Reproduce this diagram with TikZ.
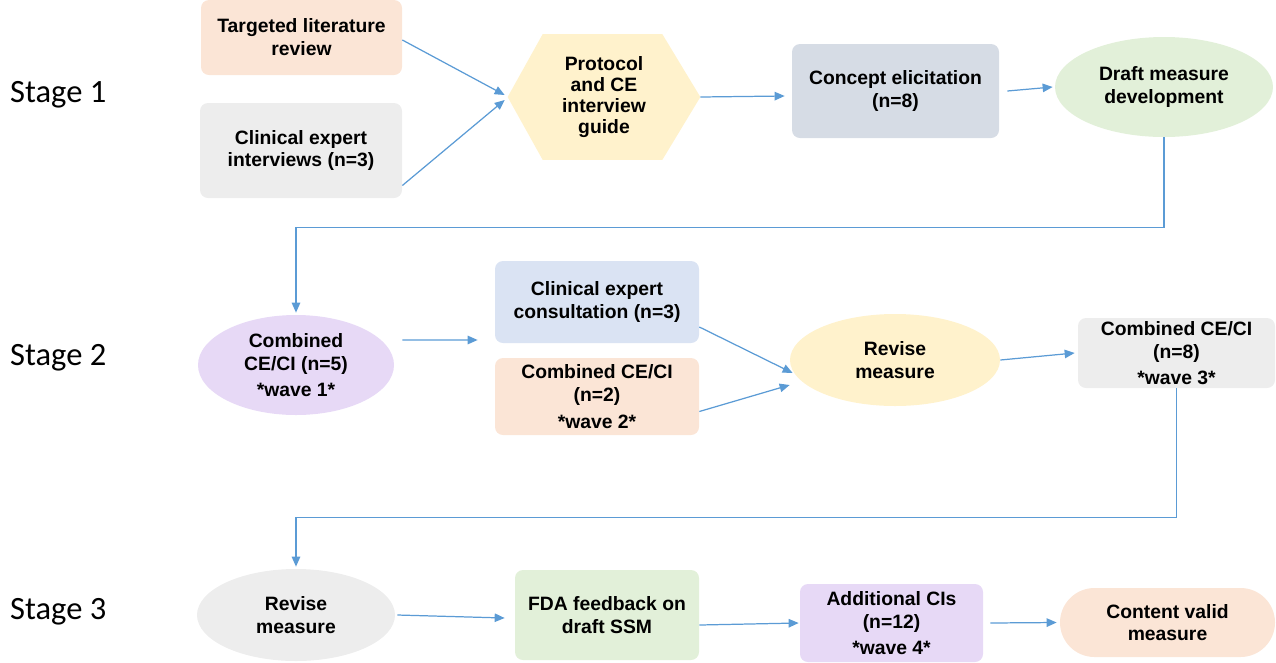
\documentclass[tikz,border=0pt]{standalone}
\usepackage{fontspec}
\setmainfont{Liberation Sans}
\newfontfamily\stagefont{Carlito}
\usetikzlibrary{arrows.meta}
\usetikzlibrary{shapes.geometric}
\usetikzlibrary{backgrounds}

\definecolor{flowblue}{HTML}{5B9BD5}
\definecolor{peach}{HTML}{FBE5D6}
\definecolor{lightgray}{HTML}{EDEDED}
\definecolor{cream}{HTML}{FFF2CC}
\definecolor{slate}{HTML}{D6DCE5}
\definecolor{mint}{HTML}{E2F0D9}
\definecolor{lavender}{HTML}{E7D9F6}
\definecolor{skyblue}{HTML}{DAE3F3}

\begin{document}
\begin{tikzpicture}[
    font=\bfseries\fontsize{11}{13}\selectfont,
    box/.style={rectangle, rounded corners=0.16cm, align=center, inner sep=0pt},
    oval/.style={ellipse, align=center, inner sep=0pt},
    flow/.style={draw=flowblue, line width=0.7pt, -{Triangle[length=0.2cm,width=0.17cm]}},
    stagelabel/.style={anchor=west, font=\stagefont\fontsize{18.5}{22}\selectfont}
]
    \useasboundingbox (0,0) rectangle (25.52,-13.24);

    % Stage labels
    \node[stagelabel] (st1) at (0.08,-1.90) {Stage 1};
    \node[stagelabel] (st2) at (0.08,-7.16) {Stage 2};
    \node[stagelabel] (st3) at (0.08,-12.24) {Stage 3};

    % Stage 1
    \node[box, fill=peach, minimum width=4.02cm, minimum height=1.5cm] (lit) at (6.03,-0.75) {Targeted literature\\review};
    \node[box, fill=lightgray, minimum width=4.04cm, minimum height=1.9cm] (clin) at (6.02,-3.01) {Clinical expert\\interviews (n=3)};
    \node[align=center, inner sep=0pt, minimum width=3.84cm, minimum height=2.5cm,
          font=\bfseries\fontsize{11}{12}\selectfont] (proto) at (12.08,-1.94) {Protocol\\and CE\\interview\\guide};
    \begin{scope}[on background layer]
        \fill[cream] (proto.west) -- ([xshift=0.7cm]proto.north west) -- ([xshift=-0.76cm]proto.north east)
            -- (proto.east) -- ([xshift=-0.76cm]proto.south east) -- ([xshift=0.7cm]proto.south west) -- cycle;
    \end{scope}
    \node[box, fill=slate, minimum width=4.14cm, minimum height=1.88cm] (conc) at (17.91,-1.82) {Concept elicitation\\(n=8)};
    \node[oval, fill=mint, minimum width=4.36cm, minimum height=2.0cm] (draft) at (23.28,-1.74) {Draft measure\\development};

    % Stage 2
    \node[oval, fill=lavender, minimum width=3.92cm, minimum height=2.0cm] (comb1) at (5.92,-7.30) {Combined\\CE/CI (n=5)\\[2pt]*wave 1*};
    \node[box, fill=skyblue, minimum width=4.08cm, minimum height=1.64cm] (cons) at (11.94,-6.04) {Clinical expert\\consultation (n=3)};
    \node[box, fill=peach, minimum width=4.08cm, minimum height=1.54cm] (comb2) at (11.94,-7.93) {Combined CE/CI\\(n=2)\\[2pt]*wave 2*};
    \node[oval, fill=cream, minimum width=4.2cm, minimum height=1.84cm] (rev1) at (17.90,-7.20) {Revise\\measure};
    \node[box, fill=lightgray, minimum width=3.94cm, minimum height=1.4cm] (comb3) at (23.53,-7.06) {Combined CE/CI\\(n=8)\\[2pt]*wave 3*};

    % Stage 3
    \node[oval, fill=lightgray, minimum width=3.96cm, minimum height=1.84cm] (rev2) at (5.92,-12.30) {Revise\\measure};
    \node[box, fill=mint, minimum width=3.68cm, minimum height=1.8cm] (fda) at (12.14,-12.30) {FDA feedback on\\draft SSM};
    \node[box, fill=lavender, minimum width=3.66cm, minimum height=1.56cm] (addl) at (17.83,-12.46) {Additional CIs\\(n=12)\\[2pt]*wave 4*};
    \node[box, fill=peach, rounded corners=0.69cm, minimum width=4.3cm, minimum height=1.38cm] (valid) at (23.35,-12.45) {Content valid\\measure};

    % Arrows for stage 1
    \draw[flow] ([yshift=-0.05cm]lit.east) -- ([xshift=-0.06cm,yshift=0.04cm]proto.west);
    \draw[flow] ([yshift=-0.7cm]clin.east) -- ([xshift=-0.06cm,yshift=-0.06cm]proto.west);
    \draw[flow] (proto.east) -- ([xshift=-0.14cm,yshift=-0.1cm]conc.west);
    \draw[flow] ([xshift=0.16cm]conc.east) -- ([xshift=-0.04cm]draft.west);

    % Link to stage 2
    \draw[flow] (draft.south) -- ++(0,-1.8) -| ([yshift=0.04cm]comb1.north);

    % Arrows for stage 2
    \draw[flow] ([xshift=0.16cm,yshift=0.5cm]comb1.east) -- ([xshift=-0.34cm,yshift=-0.76cm]cons.west);
    \draw[flow] ([yshift=-0.5cm]cons.east) -- ([xshift=0.06cm,yshift=-0.26cm]rev1.west);
    \draw[flow] ([yshift=-0.3cm]comb2.east) -- ([yshift=-0.5cm]rev1.west);
    \draw[flow] (rev1.east) -- ([xshift=-0.06cm]comb3.west);

    % Link to stage 3
    \draw[flow] (comb3.south) -- ++(0,-2.58) -| ([yshift=0.04cm]rev2.north);

    % Arrows for stage 3
    \draw[flow] ([xshift=0.04cm]rev2.east) -- ([xshift=-0.2cm,yshift=-0.06cm]fda.west);
    \draw[flow] ([yshift=-0.2cm]fda.east) -- ([xshift=-0.02cm]addl.west);
    \draw[flow] ([xshift=0.14cm]addl.east) -- ([xshift=-0.06cm]valid.west);

\end{tikzpicture}
\end{document}
